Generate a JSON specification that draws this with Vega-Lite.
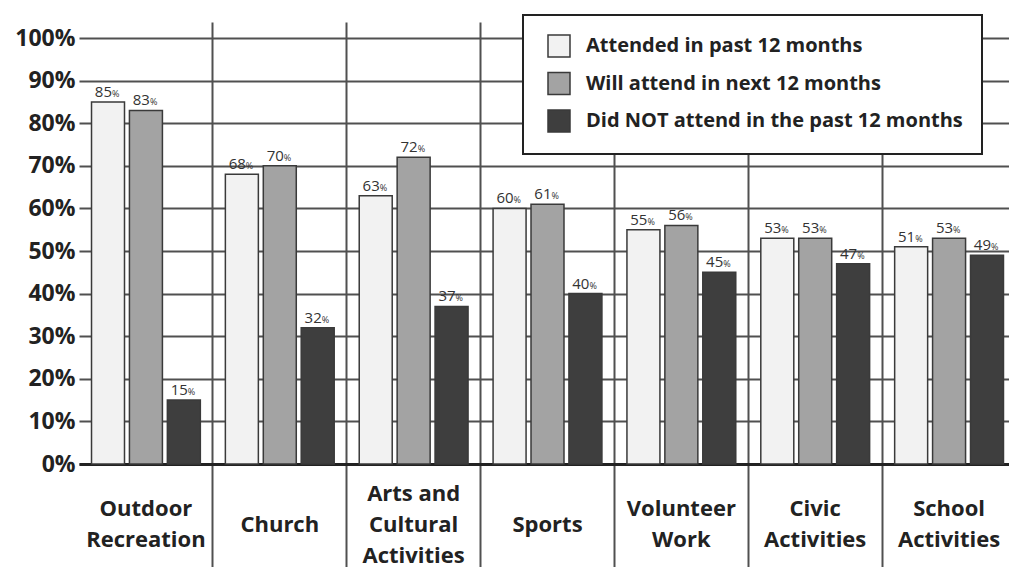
{
  "$schema": "https://vega.github.io/schema/vega-lite/v6.json",
  "width": 930,
  "height": 442,
  "autosize": {"type": "none"},
  "padding": {"left": 79, "top": 22, "right": 0, "bottom": 103},
  "background": "white",
  "config": {"view": {"stroke": null}, "font": "Open Sans", "legend": {"strokeWidth": 2}},
  "data": {
    "values": [
      {"category": "Outdoor Recreation", "series": "Attended in past 12 months", "value": 85},
      {"category": "Outdoor Recreation", "series": "Will attend in next 12 months", "value": 83},
      {"category": "Outdoor Recreation", "series": "Did NOT attend in the past 12 months", "value": 15},
      {"category": "Church", "series": "Attended in past 12 months", "value": 68},
      {"category": "Church", "series": "Will attend in next 12 months", "value": 70},
      {"category": "Church", "series": "Did NOT attend in the past 12 months", "value": 32},
      {"category": "Arts and Cultural Activities", "series": "Attended in past 12 months", "value": 63},
      {"category": "Arts and Cultural Activities", "series": "Will attend in next 12 months", "value": 72},
      {"category": "Arts and Cultural Activities", "series": "Did NOT attend in the past 12 months", "value": 37},
      {"category": "Sports", "series": "Attended in past 12 months", "value": 60},
      {"category": "Sports", "series": "Will attend in next 12 months", "value": 61},
      {"category": "Sports", "series": "Did NOT attend in the past 12 months", "value": 40},
      {"category": "Volunteer Work", "series": "Attended in past 12 months", "value": 55},
      {"category": "Volunteer Work", "series": "Will attend in next 12 months", "value": 56},
      {"category": "Volunteer Work", "series": "Did NOT attend in the past 12 months", "value": 45},
      {"category": "Civic Activities", "series": "Attended in past 12 months", "value": 53},
      {"category": "Civic Activities", "series": "Will attend in next 12 months", "value": 53},
      {"category": "Civic Activities", "series": "Did NOT attend in the past 12 months", "value": 47},
      {"category": "School Activities", "series": "Attended in past 12 months", "value": 51},
      {"category": "School Activities", "series": "Will attend in next 12 months", "value": 53},
      {"category": "School Activities", "series": "Did NOT attend in the past 12 months", "value": 49}
    ]
  },
  "encoding": {
    "x": {
      "field": "category",
      "type": "nominal",
      "sort": ["Outdoor Recreation", "Church", "Arts and Cultural Activities", "Sports", "Volunteer Work", "Civic Activities", "School Activities"],
      "scale": {"range": [0, 937], "paddingInner": 0, "paddingOuter": 0},
      "axis": {
        "title": null,
        "bandPosition": 0,
        "domain": true,
        "domainColor": "#222222",
        "domainWidth": 3,
        "ticks": true,
        "tickSize": 103,
        "tickColor": "#505050",
        "tickWidth": 2,
        "tickOpacity": {"condition": {"test": "datum.value === 'Outdoor Recreation'", "value": 0}, "value": 1},
        "grid": true,
        "gridColor": "#505050",
        "gridWidth": 2,
        "gridOpacity": {"condition": {"test": "datum.value === 'Outdoor Recreation'", "value": 0}, "value": 1},
        "labelAngle": 0,
        "labelFont": "Open Sans",
        "labelFontSize": 22,
        "labelFontWeight": "bold",
        "labelColor": "#222222",
        "labelLineHeight": 31,
        "labelBaseline": "middle",
        "labelPadding": {
          "condition": [
            {"test": "datum.value === 'Arts and Cultural Activities'", "value": -74},
            {"test": "indexof(datum.value, ' ') < 0", "value": -43}
          ],
          "value": -59
        },
        "labelLimit": 300,
        "labelExpr": "datum.value === 'Arts and Cultural Activities' ? ['Arts and', 'Cultural', 'Activities'] : split(datum.value, ' ')"
      }
    },
    "xOffset": {
      "field": "series",
      "type": "nominal",
      "sort": ["Attended in past 12 months", "Will attend in next 12 months", "Did NOT attend in the past 12 months"],
      "scale": {"paddingInner": 0.13, "paddingOuter": 0.33}
    },
    "y": {
      "field": "value",
      "type": "quantitative",
      "scale": {"domain": [0, 103.76], "nice": false},
      "axis": {
        "title": null,
        "values": [0, 10, 20, 30, 40, 50, 60, 70, 80, 90, 100],
        "domain": false,
        "ticks": false,
        "grid": true,
        "gridColor": "#505050",
        "gridWidth": 2,
        "labelExpr": "datum.value + '%'",
        "labelFont": "Open Sans",
        "labelFontSize": 23,
        "labelFontWeight": "bold",
        "labelColor": "#222222",
        "labelPadding": 4
      }
    }
  },
  "layer": [
    {
      "mark": {"type": "bar", "stroke": "#3a3a3a", "strokeWidth": 1.5},
      "encoding": {
        "fill": {
          "field": "series",
          "type": "nominal",
          "scale": {
            "domain": ["Attended in past 12 months", "Will attend in next 12 months", "Did NOT attend in the past 12 months"],
            "range": ["#f2f2f2", "#a3a3a3", "#3e3e3e"]
          },
          "legend": {
            "title": null,
            "orient": "none",
            "legendX": 444,
            "legendY": -7,
            "direction": "vertical",
            "symbolType": "square",
            "symbolSize": 484,
            "symbolStrokeColor": "#3a3a3a",
            "symbolStrokeWidth": 1.5,
            "symbolOpacity": 1,
            "symbolOffset": 5,
            "labelFont": "Open Sans",
            "labelFontSize": 20,
            "labelFontWeight": "bold",
            "labelColor": "#222222",
            "labelOffset": 15,
            "labelLimit": 500,
            "rowPadding": 9.5,
            "padding": 19,
            "strokeColor": "#222222",
            "fillColor": "white"
          }
        }
      }
    },
    {
      "mark": {"type": "text", "align": "right", "baseline": "alphabetic", "dx": 4, "dy": -5, "fontSize": 15, "color": "#333333"},
      "encoding": {"text": {"field": "value", "type": "quantitative"}}
    },
    {
      "mark": {"type": "text", "align": "left", "baseline": "alphabetic", "dx": 4, "dy": -5, "fontSize": 9, "color": "#333333", "text": "%"}
    }
  ]
}
